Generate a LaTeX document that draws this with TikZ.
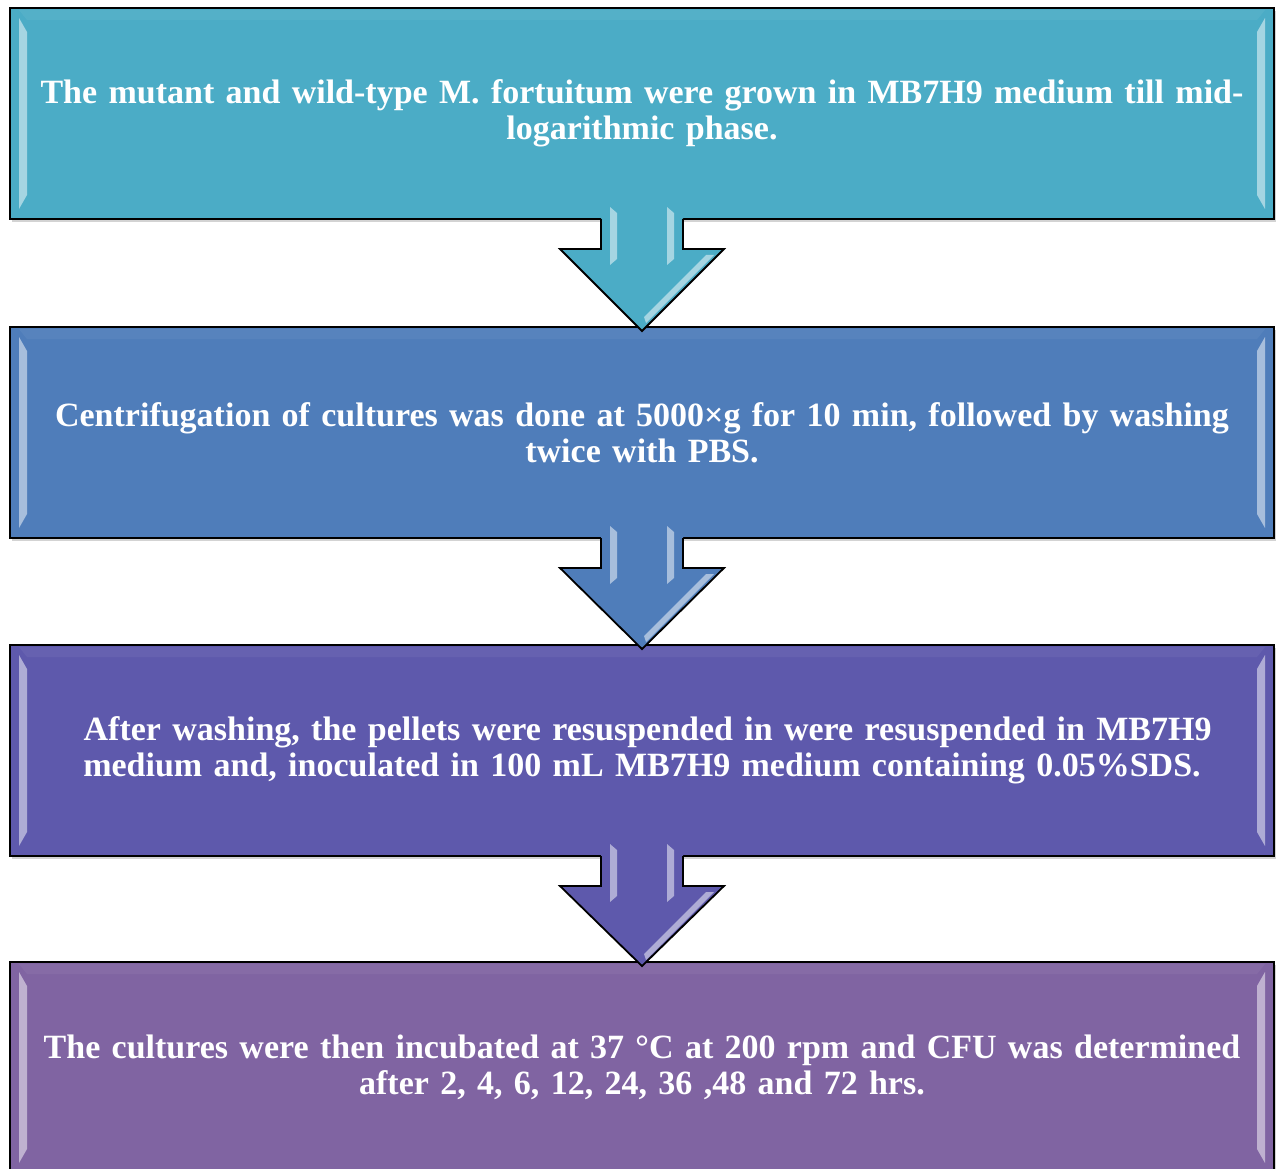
\documentclass[tikz,border=0pt]{standalone}
\usepackage{fontspec}
\setmainfont{Liberation Serif}
\usetikzlibrary{positioning,calc,shadows}
\definecolor{stepteal}{HTML}{4BACC6}
\definecolor{stepblue}{HTML}{4F7DBA}
\definecolor{stepindigo}{HTML}{5E59AC}
\definecolor{stepviolet}{HTML}{8064A2}
\tikzset{
    stepbox/.style={draw=black, line width=1.8pt, minimum width=1264pt, minimum height=211pt,
        text width=1250pt, align=center, inner sep=0pt, outer sep=0pt, text=white,
        font=\fontsize{34}{36}\selectfont\bfseries,
        drop shadow={shadow xshift=2pt, shadow yshift=-3pt, opacity=0.35}}, % 步骤框
    glint/.style={fill=white, opacity=0.5}, % 高光
    blockline/.style={line width=1.8pt, line join=miter}
}
% 框两侧的高光条
\newcommand{\bevel}[1]{
    \fill[glint] ($(#1.north west)+(9,-10)$) -- ($(#1.north west)+(17,-24)$)
        -- ($(#1.south west)+(17,24)$) -- ($(#1.south west)+(9,10)$) -- cycle;
    \fill[glint] ($(#1.north east)+(-9,-10)$) -- ($(#1.north east)+(-17,-24)$)
        -- ($(#1.south east)+(-17,24)$) -- ($(#1.south east)+(-9,10)$) -- cycle;
    \fill[white, opacity=0.05] ($(#1.north west)+(9,-2)$) -- ($(#1.north east)+(-9,-2)$)
        -- ($(#1.north east)+(-17,-12)$) -- ($(#1.north west)+(17,-12)$) -- cycle;
}
% 两框之间的下箭头
\newcommand{\steparrow}[3]{
    \fill[#3] ($(#1.south)+(-41,14)$) -- ($(#1.south)+(-41,-30)$) -- ($(#1.south)+(-82,-30)$)
        -- ($(#2.north)+(0,-4)$) -- ($(#1.south)+(82,-30)$) -- ($(#1.south)+(41,-30)$)
        -- ($(#1.south)+(41,14)$) -- cycle;
    \draw[blockline] ($(#1.south)+(-41,0)$) -- ($(#1.south)+(-41,-30)$) -- ($(#1.south)+(-82,-30)$)
        -- ($(#2.north)+(0,-4)$) -- ($(#1.south)+(82,-30)$) -- ($(#1.south)+(41,-30)$)
        -- ($(#1.south)+(41,0)$);
    \fill[glint] ($(#1.south)+(-32,12)$) -- ($(#1.south)+(-25,6)$) -- ($(#1.south)+(-25,-40)$)
        -- ($(#1.south)+(-32,-46)$) -- cycle;
    \fill[glint] ($(#1.south)+(25,12)$) -- ($(#1.south)+(32,6)$) -- ($(#1.south)+(32,-40)$)
        -- ($(#1.south)+(25,-46)$) -- cycle;
    \fill[glint] ($(#1.south)+(72,-36)$) -- ($(#1.south)+(64,-36)$) -- ($(#1.south)+(2,-98)$)
        -- ($(#1.south)+(4,-104)$) -- cycle;
}

\begin{document}
\begin{tikzpicture}[x=1pt, y=1pt]
    \useasboundingbox (0,0) rectangle (1280,-1169);
    \clip (0,0) rectangle (1280,-1169);

    \node (box1) [stepbox, fill=stepteal] at (642,-113.5)
        {The mutant and wild-type M. fortuitum were grown in MB7H9 medium till mid-\\logarithmic phase.};
    \node (box2) [stepbox, fill=stepblue, below=108pt of box1]
        {Centrifugation of cultures was done at 5000×g for 10 min, followed by washing\\twice with PBS.};
    \node (box3) [stepbox, fill=stepindigo, below=107pt of box2]
        {\ After washing, the pellets were resuspended in were resuspended in MB7H9\\medium and, inoculated in 100 mL MB7H9 medium containing 0.05\%SDS.};
    \node (box4) [stepbox, fill=stepviolet, below=106pt of box3]
        {The cultures were then incubated at 37 °C at 200 rpm and CFU was determined\\after 2, 4, 6, 12, 24, 36 ,48 and 72 hrs.};

    \bevel{box1}
    \bevel{box2}
    \bevel{box3}
    \bevel{box4}

    % 步骤之间的箭头
    \steparrow{box1}{box2}{stepteal}
    \steparrow{box2}{box3}{stepblue}
    \steparrow{box3}{box4}{stepindigo}
\end{tikzpicture}
\end{document}
